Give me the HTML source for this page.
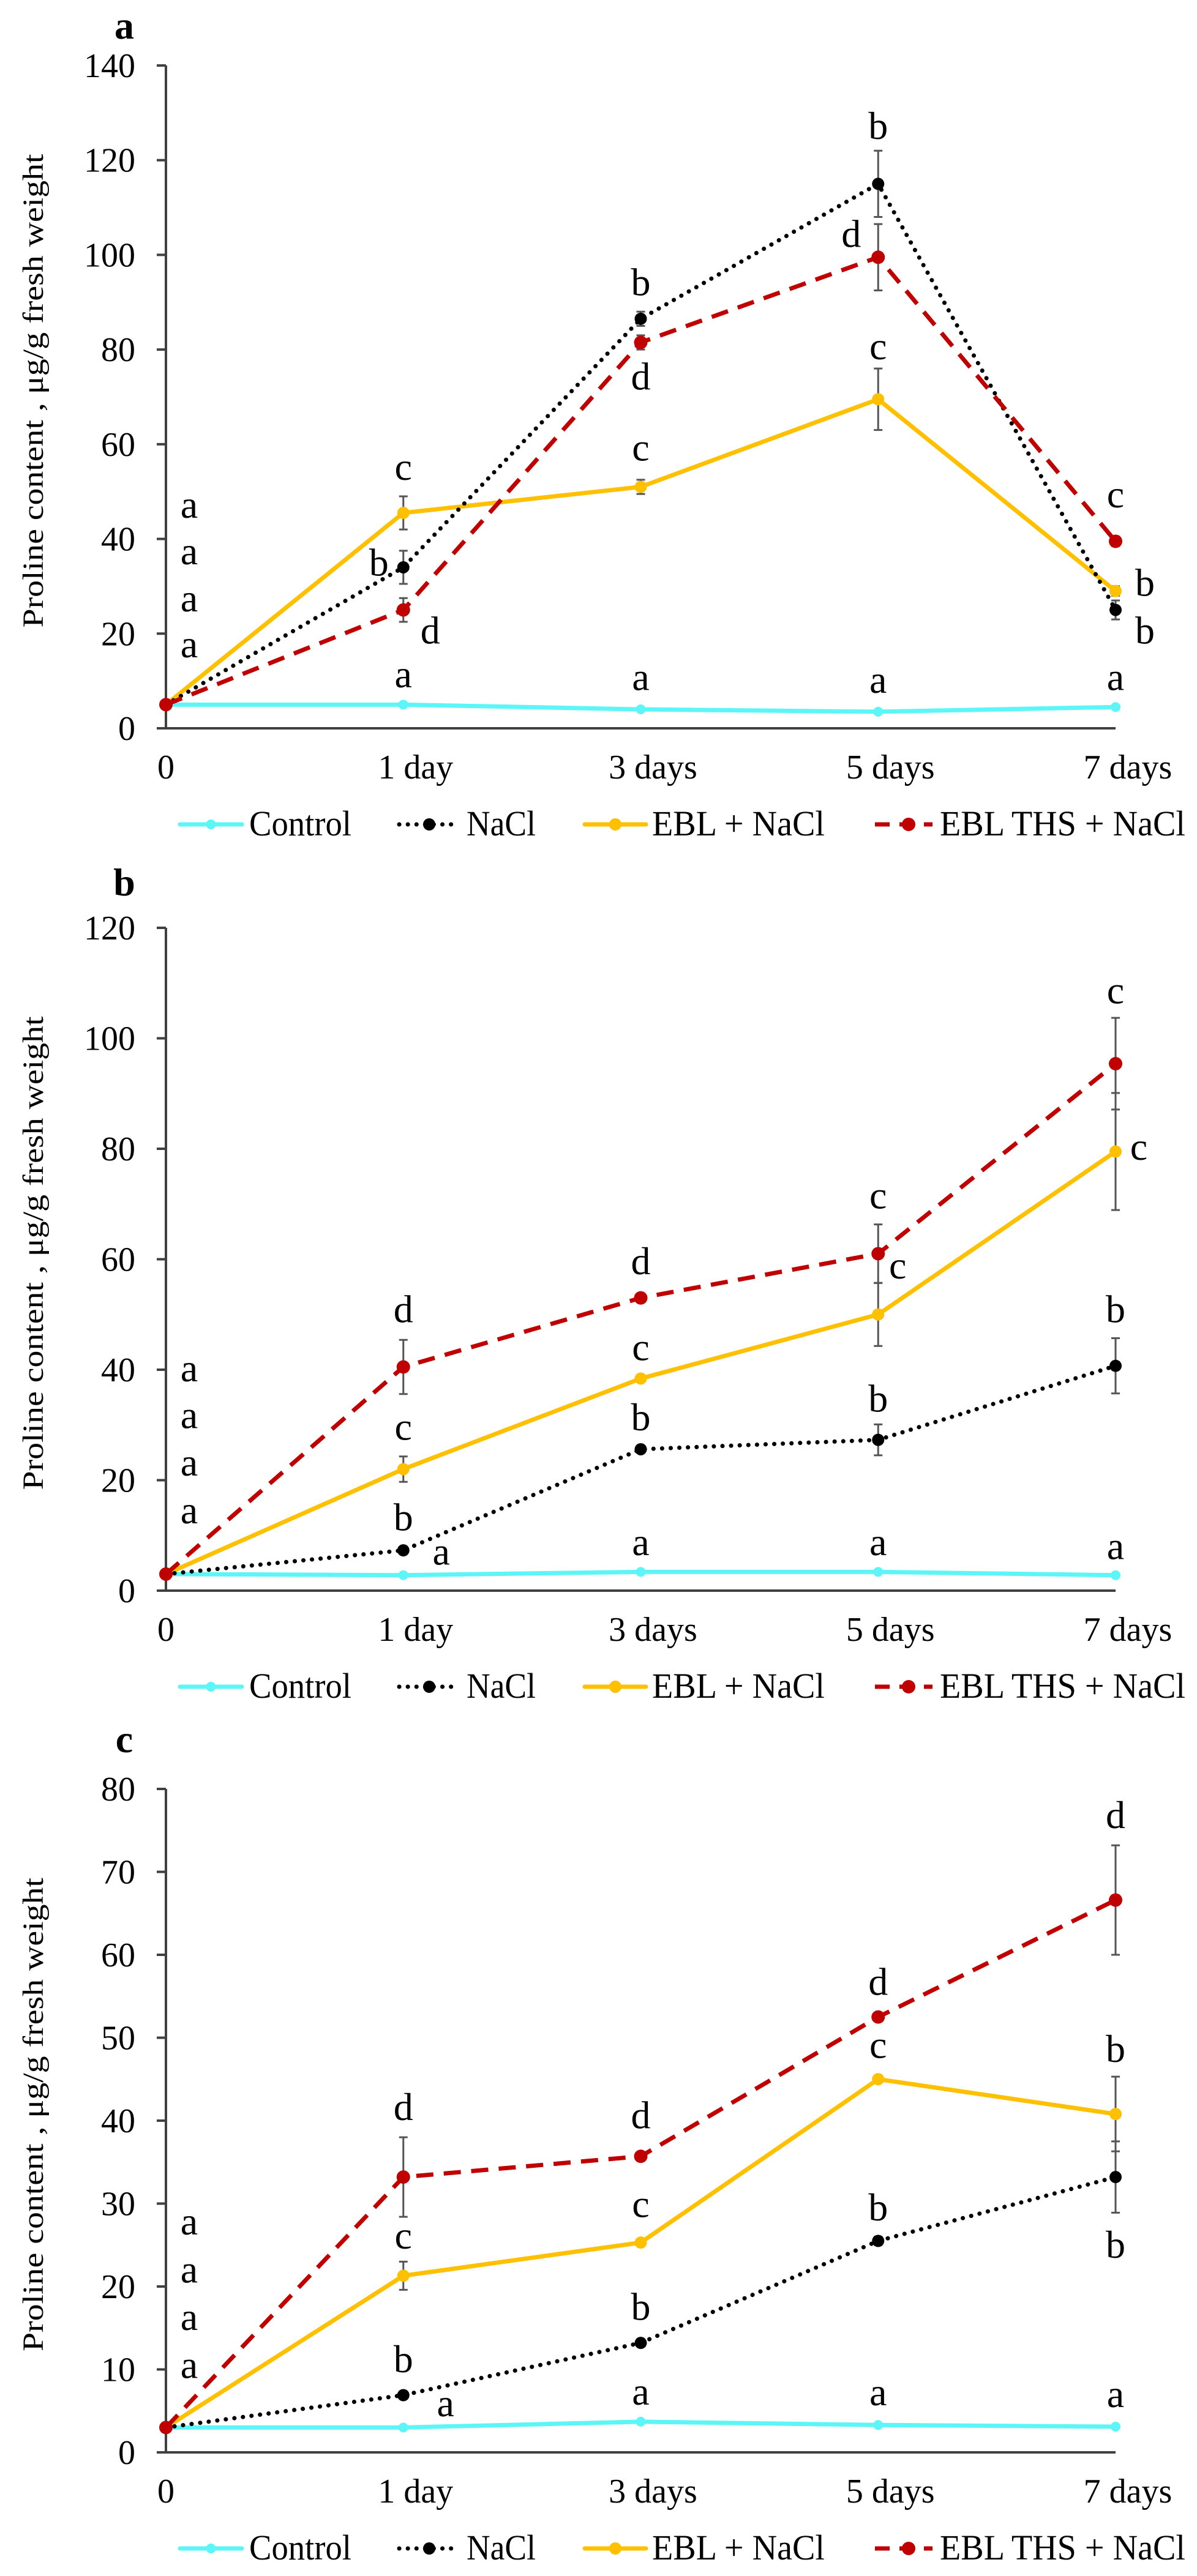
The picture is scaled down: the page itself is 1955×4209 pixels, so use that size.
<!DOCTYPE html>
<html><head><meta charset="utf-8">
<style>
html,body{margin:0;padding:0;background:#fff;}
svg{display:block;font-family:"Liberation Serif",serif;}
</style></head>
<body>
<svg id="fig" width="1955" height="4209" viewBox="0 0 1955 4209" xmlns="http://www.w3.org/2000/svg"></svg>
<script>
// ----- shared categories -----
const categories = ["0","1 day","3 days","5 days","7 days"];
const seriesNames = ["Control","NaCl","EBL + NaCl","EBL THS + NaCl"];

// ----- panel a -----
const aControl = [5, 5, 4, 3.5, 4.5];
const aNaCl    = [5, 34, 86.5, 115, 25];
const aEBL     = [5, 45.5, 51, 69.5, 29];
const aTHS     = [5, 25, 81.5, 99.5, 39.5];
const aErrNaCl = [0, 3.5, 1.5, 7, 2];
const aErrEBL  = [0, 3.5, 1.5, 6.5, 1];
const aErrTHS  = [0, 2.5, 1.5, 7, 1];
const aTicks   = [0,20,40,60,80,100,120,140];
const aLetterText = ["a","a","a","a","c","b","d","a","b","d","c","a","b","d","c","a","c","b","b","a"];
const aLetterCat  = [0,0,0,0,1,1,1,1,2,2,2,2,3,3,3,3,4,4,4,4];
const aLetterVal  = [46.8,37,27,17.3,54.8,34.6,20.2,11,93.8,73.9,58.9,10.4,126.8,104,80.3,9.8,49,30.3,20.2,10.4];
const aLetterDx   = [38,38,38,38,0,-40,44,0,0,0,0,0,0,-44,0,0,0,48,48,0];

// ----- panel b -----
const bControl = [3, 2.8, 3.4, 3.4, 2.8];
const bNaCl    = [3, 7.3, 25.6, 27.3, 40.7];
const bEBL     = [3, 22, 38.4, 50, 79.5];
const bTHS     = [3, 40.5, 53, 61, 95.4];
const bErrNaCl = [0, 0.6, 0.5, 2.8, 5];
const bErrEBL  = [0, 2.3, 0.5, 5.7, 10.6];
const bErrTHS  = [0, 4.9, 0.6, 5.3, 8.3];
const bTicks   = [0,20,40,60,80,100,120];
const bLetterText = ["a","a","a","a","d","c","b","a","d","c","b","a","c","c","b","a","c","c","b","a"];
const bLetterCat  = [0,0,0,0,1,1,1,1,2,2,2,2,3,3,3,3,4,4,4,4];
const bLetterVal  = [39.9,31.4,22.8,14.2,50.6,29.3,12.9,6.7,59.3,43.7,31,8.4,71.2,58.5,34.4,8.4,108.3,80,50.6,7.7];
const bLetterDx   = [38,38,38,38,0,0,0,62,0,0,0,0,0,32,0,0,0,38,0,0];

// ----- panel c -----
const cControl = [3, 3, 3.7, 3.3, 3.1];
const cNaCl    = [3, 6.9, 13.2, 25.5, 33.2];
const cEBL     = [3, 21.3, 25.3, 45, 40.8];
const cTHS     = [3, 33.2, 35.7, 52.5, 66.6];
const cErrNaCl = [0, 0.3, 0.4, 0.5, 4.3];
const cErrEBL  = [0, 1.7, 0.4, 0.4, 4.5];
const cErrTHS  = [0, 4.8, 0.4, 0.4, 6.6];
const cTicks   = [0,10,20,30,40,50,60,70,80];
const cLetterText = ["a","a","a","a","d","c","b","a","d","c","b","a","d","c","b","a","d","b","b","a"];
const cLetterCat  = [0,0,0,0,1,1,1,1,2,2,2,2,3,3,3,3,4,4,4,4];
const cLetterVal  = [27.6,21.8,16.1,10.3,41.4,25.9,11,5.7,40.4,29.7,17.3,7.1,56.5,48.9,29.3,7,76.6,48.4,24.8,6.8];
const cLetterDx   = [38,38,38,38,0,0,0,69,0,0,0,0,0,0,0,0,0,0,0,0];

const NS = "http://www.w3.org/2000/svg";
const svg = document.getElementById("fig");
function mk(tag, attrs, parent){
  const e = document.createElementNS(NS, tag);
  for (const k in attrs) e.setAttribute(k, attrs[k]);
  (parent||svg).appendChild(e);
  return e;
}
const COLORS = ["#5cf6f8","#000000","#ffc000","#c00000"];
const XL = 271, XR = 1822;

function drawPanel(p){
  const g = mk("g", {});
  
  
  const xScale = i => XL + (XR - XL) * i / (categories.length - 1);
  const yScale = v => p.zero - (p.zero - p.top) * v / p.max;

  const lab = mk("text", {x:203, y:p.labelY, "font-size":64, "font-weight":"bold", "text-anchor":"middle"}, g);
  lab.textContent = p.id;
  
  

  const ax = mk("path", {d:`M${XL},${p.top} L${XL},${p.zero} L${XR},${p.zero}`, stroke:"#404040", "stroke-width":4, fill:"none"}, g);
  
  

  p.ticks.forEach(t => {
    const y = yScale(t);
    const tk = mk("line", {x1:XL-15, x2:XL, y1:y, y2:y, stroke:"#404040", "stroke-width":4}, g);
    
    
    const tl = mk("text", {x:221, y:y+19, "font-size":56, "text-anchor":"end"}, g);
    tl.textContent = t;
    
    
  });
  categories.forEach((c,i) => {
    const tl = mk("text", {x:xScale(i)+(i===0?0:20), y:p.zero+82, "font-size":56, "text-anchor":"middle"}, g);
    tl.textContent = c;
    
    
  });
  const mid = (p.top + p.zero)/2 - 10;
  const yt = mk("text", {x:0, y:0, "font-size":48, "text-anchor":"middle", transform:`translate(70,${mid}) rotate(-90)`, textLength:774, lengthAdjust:"spacingAndGlyphs"}, g);
  yt.textContent = "Proline content , μg/g fresh weight";
  
  

  const series = [p.control, p.nacl, p.ebl, p.ths];
  const errs = [null, p.errNaCl, p.errEBL, p.errTHS];
  const styles = [
    {w:7, dash:null, cap:"round", r:8},
    {w:7, dash:"0.1 14", cap:"round", r:10},
    {w:7, dash:null, cap:"round", r:10},
    {w:7, dash:"28 17", cap:"butt", r:11}
  ];
  const sNames = ["control","nacl","ebl-nacl","ebl-ths-nacl"];
  series.forEach((vals, si) => {
    if (!errs[si]) return;
    vals.forEach((v,i) => {
      const e = errs[si][i];
      if (!e) return;
      const x = xScale(i), y1 = yScale(v+e), y2 = yScale(v-e);
      const eb = mk("path", {d:`M${x-7},${y1} H${x+7} M${x},${y1} V${y2} M${x-7},${y2} H${x+7}`, stroke:"#555", "stroke-width":3, fill:"none"}, g);
      
      
    });
  });
  [0,2,1,3].forEach(si => {
    const vals = series[si], st = styles[si];
    const d = vals.map((v,i) => (i?"L":"M") + xScale(i) + "," + yScale(v)).join(" ");
    const attrs = {d:d, stroke:COLORS[si], "stroke-width":st.w, fill:"none", "stroke-linecap":st.cap, "stroke-linejoin":"round"};
    if (st.dash) attrs["stroke-dasharray"] = st.dash;
    const ln = mk("path", attrs, g);
    
    
    vals.forEach((v,i) => {
      const pt = mk("circle", {cx:xScale(i), cy:yScale(v), r:st.r, fill:COLORS[si]}, g);
      
      
    });
  });
  p.lText.forEach((t,k) => {
    const lt = mk("text", {x:xScale(p.lCat[k]) + p.lDx[k], y:yScale(p.lVal[k]) + 18, "font-size":64, "text-anchor":"middle"}, g);
    lt.textContent = t;
    
    
  });
  const ly = p.zero + 157, lty = p.zero + 175;
  const legLines = [[294,395],[652,750],[955,1055],[1429,1523]];
  const legText = [[407,167],[762,113],[1065,282],[1535,401]];
  seriesNames.forEach((n,si) => {
    const le = mk("g", {}, g);
    
    
    const st = styles[si];
    const la = {x1:legLines[si][0], x2:legLines[si][1], y1:ly, y2:ly, stroke:COLORS[si], "stroke-width":st.w, "stroke-linecap":st.cap};
    if (st.dash) la["stroke-dasharray"] = si===1 ? "0.1 14" : "24 16";
    mk("line", la, le);
    mk("circle", {cx:(legLines[si][0]+legLines[si][1])/2 + (si===3?8:0), cy:ly, r:st.r, fill:COLORS[si]}, le);
    const tx = mk("text", {x:legText[si][0], y:lty, "font-size":58, textLength:legText[si][1], lengthAdjust:"spacingAndGlyphs"}, le);
    tx.textContent = n;
  });
}

drawPanel({id:"a", top:107, zero:1190, max:140, labelY:63, ticks:aTicks,
  control:aControl, nacl:aNaCl, ebl:aEBL, ths:aTHS, errNaCl:aErrNaCl, errEBL:aErrEBL, errTHS:aErrTHS,
  lText:aLetterText, lCat:aLetterCat, lVal:aLetterVal, lDx:aLetterDx});
drawPanel({id:"b", top:1516, zero:2599, max:120, labelY:1463, ticks:bTicks,
  control:bControl, nacl:bNaCl, ebl:bEBL, ths:bTHS, errNaCl:bErrNaCl, errEBL:bErrEBL, errTHS:bErrTHS,
  lText:bLetterText, lCat:bLetterCat, lVal:bLetterVal, lDx:bLetterDx});
drawPanel({id:"c", top:2923, zero:4007, max:80, labelY:2863, ticks:cTicks,
  control:cControl, nacl:cNaCl, ebl:cEBL, ths:cTHS, errNaCl:cErrNaCl, errEBL:cErrEBL, errTHS:cErrTHS,
  lText:cLetterText, lCat:cLetterCat, lVal:cLetterVal, lDx:cLetterDx});
</script>
</body></html>
